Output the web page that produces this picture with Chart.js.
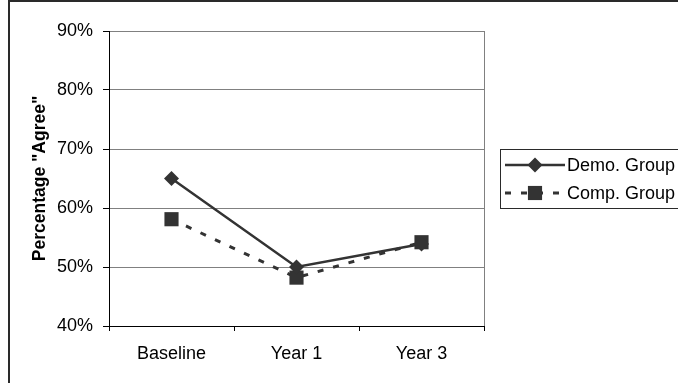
<!DOCTYPE html>
<html>
<head>
<meta charset="utf-8">
<script src="https://cdn.jsdelivr.net/npm/chart.js@4.4.1/dist/chart.umd.min.js"></script>
<style>
  html, body { margin: 0; padding: 0; background: #fff; }
  #wrap { position: relative; width: 678px; height: 383px; }
</style>
</head>
<body>
<div id="wrap"><canvas id="c"></canvas></div>
<script>
const categories = ['Baseline', 'Year 1', 'Year 3'];
const demoGroup = [65.0, 50.0, 53.9];
const compGroup = [58.1, 48.2, 54.2];
const yTicks = [40, 50, 60, 70, 80, 90];
const seriesLabels = ['Demo. Group', 'Comp. Group'];
const yTitle = 'Percentage "Agree"';

const FONT = "'Liberation Sans', Arial, sans-serif";
const DARK = '#333333';

const framePlugin = {
  id: 'frame',
  beforeDraw(chart) {
    const ctx = chart.ctx;
    ctx.save();
    ctx.strokeStyle = '#2a2a2a';
    ctx.lineWidth = 2;
    ctx.beginPath();
    ctx.moveTo(9, 383);
    ctx.lineTo(9, 1);
    ctx.lineTo(678, 1);
    ctx.stroke();
    ctx.restore();
  },
  afterDatasetsDraw(chart) {},
  beforeDatasetsDraw(chart) {
    const ctx = chart.ctx;
    const a = chart.chartArea;
    ctx.save();
    ctx.strokeStyle = '#808080';
    ctx.lineWidth = 1;
    ctx.beginPath();
    ctx.moveTo(Math.round(a.right) + 0.5, a.top);
    ctx.lineTo(Math.round(a.right) + 0.5, a.bottom);
    ctx.stroke();
    ctx.restore();
  },
  afterDraw(chart) {
    const ctx = chart.ctx;
    ctx.save();
    // legend box
    ctx.strokeStyle = '#2a2a2a';
    ctx.lineWidth = 1;
    ctx.strokeRect(500.5, 149.5, 220, 59);
    const rows = [165, 193];
    chart.data.datasets.forEach((ds, i) => {
      const y = rows[i];
      ctx.strokeStyle = ds.borderColor;
      ctx.lineWidth = ds.borderWidth;
      ctx.setLineDash(ds.borderDash || []);
      ctx.lineDashOffset = 0;
      ctx.beginPath();
      ctx.moveTo(505, y);
      ctx.lineTo(565, y);
      ctx.stroke();
      ctx.setLineDash([]);
      ctx.fillStyle = ds.pointBackgroundColor;
      ctx.beginPath();
      const r = ds.pointRadius;
      if (ds.pointStyle === 'rectRot') {
        ctx.moveTo(535 - r, y); ctx.lineTo(535, y - r); ctx.lineTo(535 + r, y); ctx.lineTo(535, y + r);
      } else {
        const s = Math.SQRT1_2 * r;
        ctx.rect(535 - s, y - s, 2 * s, 2 * s);
      }
      ctx.closePath();
      ctx.fill();
      ctx.fillStyle = '#000';
      ctx.font = '18px ' + FONT;
      ctx.textAlign = 'left';
      ctx.textBaseline = 'middle';
      ctx.fillText(ds.label, 567, y + 1);
    });
    ctx.restore();
  }
};

new Chart(document.getElementById('c'), {
  type: 'line',
  data: {
    labels: categories,
    datasets: [
      {
        label: seriesLabels[0],
        data: demoGroup,
        borderColor: DARK,
        borderWidth: 2.5,
        pointStyle: 'rectRot',
        pointRadius: 7.5,
        pointBackgroundColor: DARK,
        pointBorderColor: DARK,
        pointBorderWidth: 0,
        tension: 0,
        fill: false
      },
      {
        label: seriesLabels[1],
        data: compGroup,
        borderColor: DARK,
        borderWidth: 3,
        borderDash: [6, 10],
        pointStyle: 'rect',
        pointRadius: 10,
        pointBackgroundColor: DARK,
        pointBorderColor: DARK,
        pointBorderWidth: 0,
        tension: 0,
        fill: false
      }
    ]
  },
  options: {
    responsive: true,
    maintainAspectRatio: false,
    animation: false,
    layout: { padding: { left: 0, right: 194, top: 31, bottom: 0 } },
    plugins: { legend: { display: false }, tooltip: { enabled: false } },
    scales: {
      x: {
        type: 'category',
        offset: true,
        afterFit(scale) { scale.height = 57; },
        grid: {
          display: true,
          drawOnChartArea: false,
          drawTicks: true,
          offset: true,
          tickLength: 5,
          tickColor: '#000',
          tickWidth: 1
        },
        border: { display: true, color: '#000', width: 1 },
        ticks: { color: '#000', font: { family: FONT, size: 18 }, padding: 12, maxRotation: 0 }
      },
      y: {
        min: 40,
        max: 90,
        afterFit(scale) { scale.width = 109; },
        afterBuildTicks(scale) { scale.ticks = yTicks.map(v => ({ value: v })); },
        grid: {
          color: '#808080',
          lineWidth: 1,
          drawTicks: true,
          tickLength: 6,
          tickColor: '#000'
        },
        border: { display: true, color: '#000', width: 1 },
        ticks: {
          color: '#000',
          font: { family: FONT, size: 18 },
          padding: 10,
          callback: v => v + '%'
        },
        title: {
          display: true,
          text: yTitle,
          color: '#000',
          font: { family: FONT, size: 17.5, weight: 'bold' },
          padding: { top: 30, bottom: 0 }
        }
      }
    }
  },
  plugins: [framePlugin]
});
</script>
</body>
</html>
